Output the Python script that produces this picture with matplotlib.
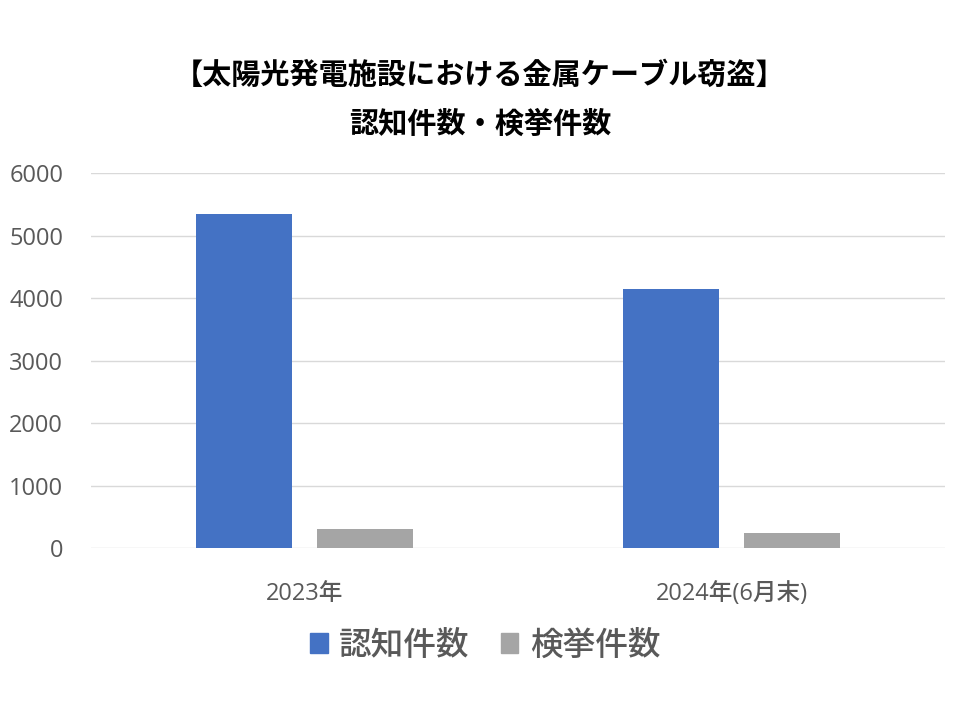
import matplotlib
matplotlib.use("Agg")
import matplotlib.pyplot as plt
from matplotlib.patches import Patch
import numpy as np

plt.rcParams['font.family'] = ['Open Sans', 'Noto Sans CJK JP', 'DejaVu Sans']

categories = ["2023年", "2024年(6月末)"]
series_names = ["認知件数", "検挙件数"]
ninchi = [5350, 4150]
kenkyo = [312, 248]
yticks = [0, 1000, 2000, 3000, 4000, 5000, 6000]
colors = ["#4472C4", "#A5A5A5"]

fig = plt.figure(figsize=(9.6, 7.2), dpi=100)
ax = fig.add_axes([0.0948, 0.2382, 0.8896, 0.5215])

x = np.arange(len(categories))
w = 0.225
off = 0.1417
ax.bar(x - off, ninchi, width=w, color=colors[0], zorder=3)
ax.bar(x + off, kenkyo, width=w, color=colors[1], zorder=3)

ax.set_xlim(-0.5, 1.5)
ax.set_ylim(0, 6000)
ax.set_yticks(yticks)
ax.set_yticklabels([str(v) for v in yticks])
ax.set_xticks(x)
ax.set_xticklabels(categories)
ax.grid(axis='y', color='#D9D9D9', linewidth=1, zorder=0)
for s in ax.spines.values():
    s.set_visible(False)
ax.tick_params(axis='both', length=0, labelsize=17, colors='#595959')
ax.tick_params(axis='y', pad=20)
ax.tick_params(axis='x', pad=24)
for lab in ax.get_xticklabels() + ax.get_yticklabels():
    lab.set_fontweight('medium')

title_font = ['Noto Sans CJK JP', 'DejaVu Sans']
fig.text(0.5, 1 - 75 / 720, "【太陽光発電施設における金属ケーブル窃盗】", ha='center', va='center',
         fontsize=21, fontweight='bold', color='black', family=title_font)
fig.text(0.5, 1 - 124 / 720, "認知件数・検挙件数", ha='center', va='center',
         fontsize=21, fontweight='bold', color='black', family=title_font)

handles = [Patch(color=colors[0]), Patch(color=colors[1])]
leg = fig.legend(handles, series_names, loc='center', bbox_to_anchor=(0.5 + 5 / 960, 1 - 645 / 720),
                 ncol=2, frameon=False, handlelength=0.55, handleheight=0.55,
                 handletextpad=0.35, columnspacing=0.95,
                 prop={'family': title_font, 'size': 23.5, 'weight': 'medium'})
for t in leg.get_texts():
    t.set_color('#595959')

fig.savefig("out.png", dpi=100)
